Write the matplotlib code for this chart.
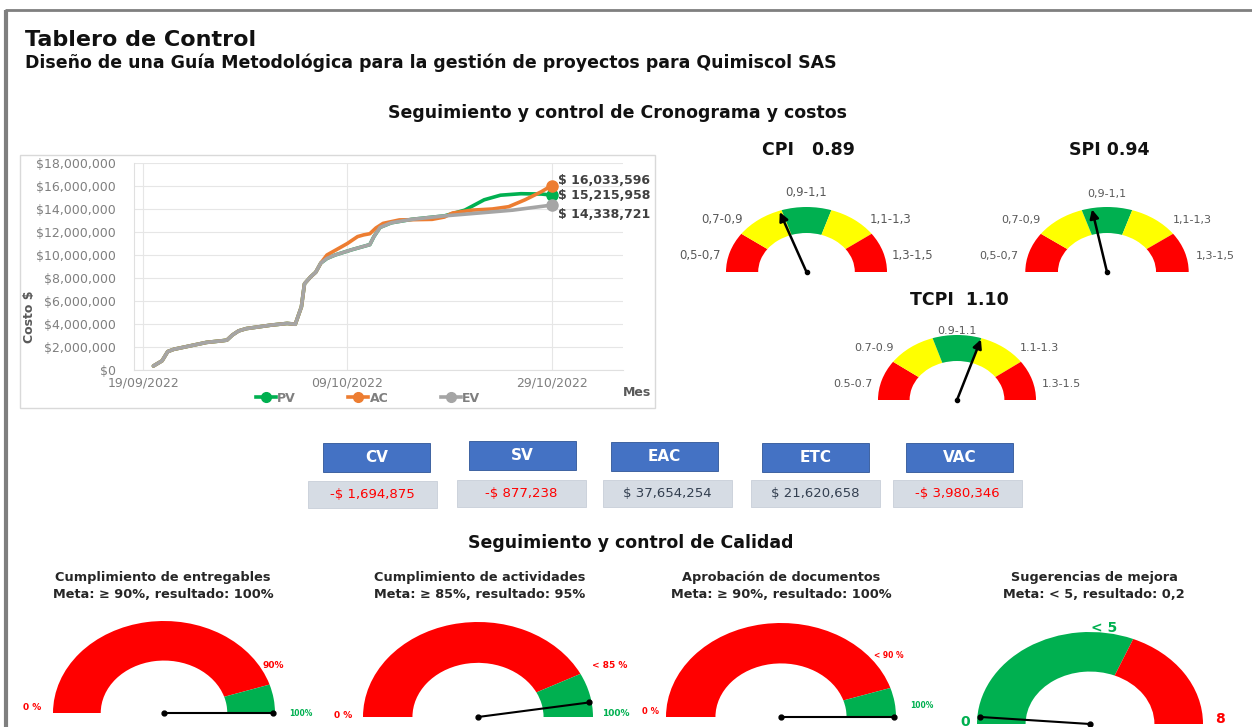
import numpy as np
import pandas as pd
import matplotlib
matplotlib.use("Agg")
import matplotlib.pyplot as plt
from matplotlib.patches import Wedge, Rectangle
from matplotlib.lines import Line2D
from matplotlib.ticker import FuncFormatter

W, H = 1252, 727

# Curva S: días desde el 19/09/2022, valores en millones de $
start_date = "19/09/2022"
tick_dates = ["19/09/2022", "09/10/2022", "29/10/2022"]

ev_days = [1, 1.85, 2.4, 3.0, 4.6, 6.2, 7.8, 8.2, 8.75, 9.35, 10.1, 12.5, 14.1, 14.9, 15.5, 15.8,
           16.4, 16.9, 17.4, 18.0, 18.8, 20.4, 21.6, 22.2, 22.6, 23.2, 24.3, 26.3, 29.5, 32.2, 36.2, 40]
ev_vals = [0.35, 0.8, 1.6, 1.8, 2.1, 2.4, 2.55, 2.6, 3.05, 3.4, 3.6, 3.9, 4.05, 3.98, 5.5, 7.5,
           8.1, 8.5, 9.3, 9.7, 10.0, 10.45, 10.75, 10.9, 11.6, 12.4, 12.8, 13.1, 13.4, 13.6, 13.9, 14.338721]

ac_days = [1, 1.85, 2.4, 3.0, 4.6, 6.2, 7.8, 8.2, 8.75, 9.35, 10.1, 12.5, 14.1, 14.9, 15.5, 15.8,
           16.4, 16.9, 17.4, 18.0, 20.0, 21.0, 21.6, 22.2, 22.8, 23.5, 25.1, 28.3, 29.5, 30.3, 32.2,
           34.2, 35.8, 37.4, 39.0, 40]
ac_vals = [0.35, 0.8, 1.6, 1.8, 2.1, 2.4, 2.55, 2.6, 3.05, 3.4, 3.6, 3.9, 4.05, 3.98, 5.5, 7.5,
           8.1, 8.5, 9.3, 10.0, 11.0, 11.6, 11.75, 11.85, 12.35, 12.75, 13.05, 13.1, 13.3, 13.65, 13.9,
           14.0, 14.2, 14.8, 15.5, 16.033596]

pv_days = [1, 1.85, 2.4, 3.0, 4.6, 6.2, 7.8, 8.2, 8.75, 9.35, 10.1, 12.5, 14.1, 14.9, 15.5, 15.8,
           16.4, 16.9, 17.4, 18.0, 18.8, 20.4, 21.6, 22.2, 22.6, 23.2, 24.3, 26.3, 29.5, 31.5, 33.4,
           35.0, 37.0, 39.0, 40]
pv_vals = [0.35, 0.8, 1.6, 1.8, 2.1, 2.4, 2.55, 2.6, 3.05, 3.4, 3.6, 3.9, 4.05, 3.98, 5.5, 7.5,
           8.1, 8.5, 9.3, 9.7, 10.0, 10.45, 10.75, 10.9, 11.6, 12.4, 12.8, 13.1, 13.4, 13.9, 14.8,
           15.2, 15.33, 15.3, 15.215958]

# Indicadores de desempeño
cpi_value = 0.89
spi_value = 0.94
tcpi_value = 1.10
band_edges = [0.5, 0.7, 0.9, 1.1, 1.3, 1.5]
band_labels_comma = ["0,5-0,7", "0,7-0,9", "0,9-1,1", "1,1-1,3", "1,3-1,5"]
band_labels_dot = ["0.5-0.7", "0.7-0.9", "0.9-1.1", "1.1-1.3", "1.3-1.5"]

# Variaciones y pronósticos
kpi_names = ["CV", "SV", "EAC", "ETC", "VAC"]
kpi_values = [-1694875, -877238, 37654254, 21620658, -3980346]

# Calidad
q_titles = ["Cumplimiento de entregables", "Cumplimiento de actividades",
            "Aprobación de documentos", "Sugerencias de mejora"]
q_goals = ["Meta: ≥ 90%, resultado: 100%", "Meta: ≥ 85%, resultado: 95%",
           "Meta: ≥ 90%, resultado: 100%", "Meta: < 5, resultado: 0,2"]
q_max = [100, 100, 100, 8]
q_threshold = [90, 85, 90, 5]
q_result = [100, 95, 100, 0.2]

RED, YELLOW, GREEN = "#FF0000", "#FFFF00", "#00B050"
GRAY_TXT = "#7F7F7F"

plt.rcParams["font.family"] = ["DejaVu Sans"]

fig = plt.figure(figsize=(W / 100, H / 100), dpi=100)


def px_rect(l, t, w, h):
    return [l / W, 1 - (t + h) / H, w / W, h / H]


# capa de fondo en coordenadas de píxel
bg = fig.add_axes([0, 0, 1, 1])
bg.set_xlim(0, W)
bg.set_ylim(H, 0)
bg.axis("off")
bg.plot([5, W], [10, 10], color="#7F7F7F", lw=2, solid_capstyle="butt")
bg.plot([6, 6], [10, H], color="#7F7F7F", lw=3, solid_capstyle="butt")
bg.add_patch(Rectangle((20, 155), 635, 253, fill=False, ec="#D9D9D9", lw=1))

bg.text(25, 40, "Tablero de Control", fontsize=16, fontweight="bold", color="#111111", va="center")
bg.text(25, 63, "Diseño de una Guía Metodológica para la gestión de proyectos para Quimiscol SAS",
        fontsize=12.5, fontweight="bold", color="#111111", va="center")
bg.text(617, 113, "Seguimiento y control de Cronograma y costos", fontsize=12.5, fontweight="bold",
        color="#111111", ha="center", va="center")
bg.text(631, 543, "Seguimiento y control de Calidad", fontsize=12.5, fontweight="bold",
        color="#111111", ha="center", va="center")

# ---- curva S ----
t0 = pd.to_datetime(start_date, dayfirst=True)
ax = fig.add_axes(px_rect(134, 163, 489, 207))
series = [("PV", pv_days, pv_vals, GREEN, 2), ("AC", ac_days, ac_vals, "#ED7D31", 3),
          ("EV", ev_days, ev_vals, "#A5A5A5", 4)]
for name, d, v, col, z in series:
    x = t0 + pd.to_timedelta(d, unit="D")
    y = np.array(v) * 1e6
    ax.plot(x, y, color=col, lw=2.6, zorder=z, solid_capstyle="round")
    ax.plot(x[-1], y[-1], "o", ms=8, color=col, zorder=z + 3)

offsets = {"AC": 4, "PV": 0, "EV": -7}
for name, d, v, col, z in series:
    x_end = t0 + pd.Timedelta(days=d[-1])
    ax.annotate(f"$ {v[-1] * 1e6:,.0f}", xy=(x_end, v[-1] * 1e6), xytext=(5, offsets[name]),
                textcoords="offset points", va="center", fontsize=9, fontweight="bold",
                color="#404040", zorder=10, annotation_clip=False)

ax.set_ylim(0, 18e6)
ax.set_yticks(np.arange(0, 18e6 + 1, 2e6))
ax.yaxis.set_major_formatter(FuncFormatter(lambda v, p: f"${v:,.0f}"))
ticks = pd.to_datetime(tick_dates, dayfirst=True)
ax.set_xticks(ticks)
ax.set_xticklabels(tick_dates)
ax.set_xlim(t0 - pd.Timedelta(days=0.9), t0 + pd.Timedelta(days=47))
ax.grid(color="#E6E6E6", lw=0.8)
ax.set_axisbelow(True)
for s in ["top", "right"]:
    ax.spines[s].set_visible(False)
for s in ["left", "bottom"]:
    ax.spines[s].set_color("#E0E0E0")
ax.tick_params(length=0, colors=GRAY_TXT, labelsize=9)
ax.tick_params(axis="y", pad=13)
ax.tick_params(axis="x", pad=5)
bg.text(30, 317, "Costo $", rotation=90, fontsize=9, fontweight="bold", color="#595959",
        ha="center", va="center")
bg.text(637, 392, "Mes", fontsize=9, fontweight="bold", color="#595959", ha="center", va="center")

handles = [Line2D([], [], color=c, lw=2.6, marker="o", ms=7) for _, _, _, c, _ in series]
fig.legend(handles, [s[0] for s in series], loc="center", bbox_to_anchor=(368 / W, 1 - 398 / H),
           ncol=3, frameon=False, columnspacing=4.2, handlelength=1.6, handletextpad=0.1,
           prop={"size": 9, "weight": "bold"}, labelcolor="#7F7F7F")


# ---- velocímetros CPI / SPI / TCPI ----
def val_to_ang(v, vmin, vmax):
    return np.pi * (1 - (v - vmin) / (vmax - vmin))


def gauge_ax(cx, cy, rx, ry):
    g = fig.add_axes(px_rect(cx - rx, cy - ry, 2 * rx, ry))
    g.set_xlim(-1, 1)
    g.set_ylim(0, 1)
    g.axis("off")
    return g


top_gauges = [
    (806.5, 272, 80.5, 65, cpi_value, "CPI   0.89", 150, band_labels_comma, 1.22, 8.5),
    (1107, 272, 81.7, 65, spi_value, "SPI 0.94", 150, band_labels_comma, 1.2, 8),
    (957, 400, 79, 65, tcpi_value, "TCPI  1.10", 300, band_labels_dot, 1.06, 8),
]
band_colors = [RED, YELLOW, GREEN, YELLOW, RED]
for cx, cy, rx, ry, val, title, ty, labels, top_r, fs in top_gauges:
    g = gauge_ax(cx, cy, rx, ry)
    for i, col in enumerate(band_colors):
        a1 = np.degrees(val_to_ang(band_edges[i + 1], band_edges[0], band_edges[-1]))
        a2 = np.degrees(val_to_ang(band_edges[i], band_edges[0], band_edges[-1]))
        g.add_patch(Wedge((0, 0), 1, a1, a2, width=0.4, color=col, lw=0))
    a = val_to_ang(val, band_edges[0], band_edges[-1])
    g.annotate("", xy=(0.98 * np.cos(a), 0.98 * np.sin(a)), xytext=(0, 0),
               arrowprops=dict(arrowstyle="-|>", color="black", lw=1.8, mutation_scale=13,
                               shrinkA=0, shrinkB=0), annotation_clip=False)
    g.plot(0, 0, "o", ms=3, color="black", clip_on=False)
    lab_pos = [(-1.32, 0.25), (-1.05, 0.8), (0, top_r), (1.05, 0.8), (1.32, 0.25)]
    for (lx, ly), txt in zip(lab_pos, labels):
        g.text(lx, ly, txt, fontsize=fs, color="#595959", ha="center", va="center", clip_on=False)
    bg.text(cx + 2, ty, title, fontsize=12.5, fontweight="bold", color="#111111", ha="center",
            va="center")

# ---- cuadros de variaciones ----
head_boxes = [(323, 443), (469, 441), (611, 442), (762, 443), (906, 443)]
val_boxes = [(308, 481), (457, 480), (603, 480), (751, 480), (893, 480)]
for name, v, (hx, hy), (vx, vy) in zip(kpi_names, kpi_values, head_boxes, val_boxes):
    bg.add_patch(Rectangle((hx, hy), 107, 29, fc="#4472C4", ec="#2F5597", lw=0.6))
    bg.text(hx + 53.5, hy + 14.5, name, color="white", fontsize=11, fontweight="bold",
            ha="center", va="center")
    bg.add_patch(Rectangle((vx, vy), 129, 27, fc="#D6DCE4", ec="#C8CED8", lw=0.6))
    txt = f"-$ {abs(v):,.0f}" if v < 0 else f"$ {v:,.0f}"
    bg.text(vx + 64.5, vy + 13.5, txt, color=RED if v < 0 else "#333F50", fontsize=9.5,
            ha="center", va="center")

# ---- velocímetros de calidad ----
q_geom = [(164, 713, 111, 92), (478, 717, 115, 95), (781, 717, 115, 94), (1090, 724, 113, 92)]
q_title_x = [163, 480, 781, 1094]
for i in range(4):
    cx, cy, rx, ry = q_geom[i]
    g = gauge_ax(cx, cy, rx, ry)
    thr = val_to_ang(q_threshold[i], 0, q_max[i])
    if i < 3:
        cols = (RED, GREEN)
    else:
        cols = (GREEN, RED)
    g.add_patch(Wedge((0, 0), 1, np.degrees(thr), 180, width=0.43, color=cols[0], lw=0))
    g.add_patch(Wedge((0, 0), 1, 0, np.degrees(thr), width=0.43, color=cols[1], lw=0))
    a = val_to_ang(q_result[i], 0, q_max[i])
    g.plot([0, 0.98 * np.cos(a)], [0, 0.98 * np.sin(a)], color="black", lw=1.5, marker="o",
           ms=3.5, clip_on=False)
    bg.text(q_title_x[i], 578, q_titles[i], fontsize=9.3, fontweight="bold", color="#262626",
            ha="center", va="center")
    bg.text(q_title_x[i], 594, q_goals[i], fontsize=9.3, fontweight="bold", color="#262626",
            ha="center", va="center")

# etiquetas de escala de los velocímetros de calidad
bg.text(32, 707, "0 %", color=RED, fontsize=6.5, fontweight="bold", ha="center", va="center")
bg.text(273, 665, "90%", color=RED, fontsize=6.5, fontweight="bold", ha="center", va="center")
bg.text(301, 713, "100%", color=GREEN, fontsize=5.5, fontweight="bold", ha="center", va="center")
bg.text(343, 715, "0 %", color=RED, fontsize=6.5, fontweight="bold", ha="center", va="center")
bg.text(610, 665, "< 85 %", color=RED, fontsize=6.5, fontweight="bold", ha="center", va="center")
bg.text(616, 714, "100%", color=GREEN, fontsize=6.5, fontweight="bold", ha="center", va="center")
bg.text(650, 712, "0 %", color=RED, fontsize=6, fontweight="bold", ha="center", va="center")
bg.text(889, 655, "< 90 %", color=RED, fontsize=5.5, fontweight="bold", ha="center", va="center")
bg.text(922, 706, "100%", color=GREEN, fontsize=5.5, fontweight="bold", ha="center", va="center")
bg.text(965, 722, "0", color=GREEN, fontsize=10, fontweight="bold", ha="center", va="center")
bg.text(1104, 628, "< 5", color=GREEN, fontsize=10, fontweight="bold", ha="center", va="center")
bg.text(1220, 719, "8", color=RED, fontsize=10, fontweight="bold", ha="center", va="center")

fig.savefig("out.png", dpi=100)
